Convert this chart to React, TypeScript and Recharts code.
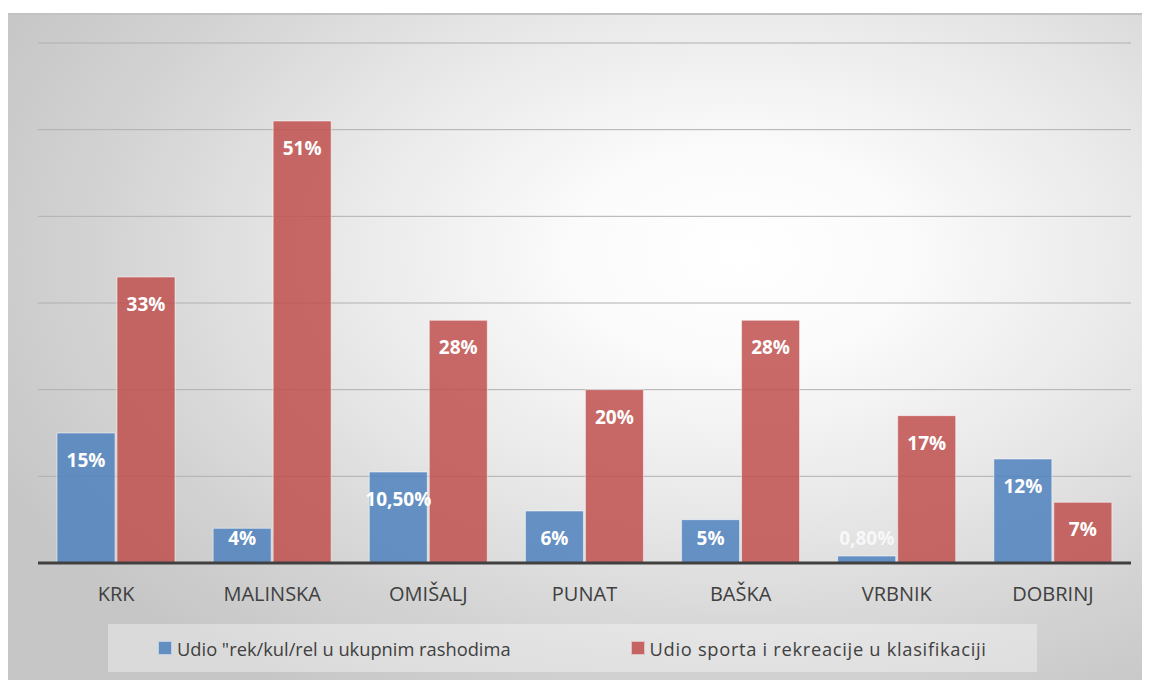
import { BarChart, Bar, XAxis, YAxis, CartesianGrid, Legend, LabelList } from "recharts";

const TOWNS = ["KRK", "MALINSKA", "OMIŠALJ", "PUNAT", "BAŠKA", "VRBNIK", "DOBRINJ"];
const SHARE_TOTAL = [15, 4, 10.5, 6, 5, 0.8, 12];
const SHARE_CLASS = [33, 51, 28, 20, 28, 17, 7];
const Y_TICKS = [0, 10, 20, 30, 40, 50, 60];

const SERIES = [
  { key: "total", name: 'Udio "rek/kul/rel u ukupnim rashodima', color: "#4f81bd" },
  { key: "klas", name: "Udio sporta i rekreacije u klasifikaciji", color: "#c0504d" },
];

const data = TOWNS.map((town, i) => ({
  town,
  total: SHARE_TOTAL[i],
  klas: SHARE_CLASS[i],
}));

const FONT = '"Open Sans", sans-serif';

const fmt = (v: number) =>
  Number.isInteger(v) ? `${v}%` : `${v.toFixed(2).replace(".", ",")}%`;

// inside end label, pushed up / outside when the bar is too short (like Excel)
function BarLabel(props: any) {
  const { x = 0, y = 0, width = 0, height = 0, value } = props;
  const cx = x + width / 2;
  const small = height < 20;
  const ty = small ? y - 11 : Math.min(y + 34, y + height - 18);
  return (
    <text
      x={cx}
      y={ty}
      textAnchor="middle"
      fill="#ffffff"
      fillOpacity={small ? 0.75 : 1}
      fontFamily={FONT}
      fontWeight={700}
      fontSize={19}
    >
      {fmt(Number(value))}
    </text>
  );
}

function LegendBox() {
  return (
    <div
      style={{
        height: 48,
        boxSizing: "border-box",
        paddingLeft: 50,
        background: "rgba(255,255,255,0.35)",
        display: "flex",
        alignItems: "center",
        gap: 120,
        fontFamily: FONT,
        fontSize: 18.3,
        color: "#404040",
      }}
    >
      {SERIES.map((s, i) => (
        <div key={s.key} style={{ display: "flex", alignItems: "center" }}>
          <span
            style={{
              display: "inline-block",
              width: 12,
              height: 12,
              marginRight: 5,
              background: s.color,
              opacity: 0.85,
              border: "1px solid rgba(255,255,255,0.6)",
            }}
          />
          <span style={{ letterSpacing: i === 1 ? 0.7 : 0 }}>{s.name}</span>
        </div>
      ))}
    </div>
  );
}

export default function App() {
  return (
    <div
      style={{
        marginTop: 5,
        width: 1142,
        height: 665,
        borderTop: "2px solid #c2c2c2",
        background:
          "radial-gradient(ellipse 72% 78% at 64% 36%, #ffffff 0%, #fbfbfb 20%, #e8e8e8 50%, #d3d3d3 78%, #c6c6c6 100%)",
      }}
    >
      <BarChart
        width={1142}
        height={665}
        data={data}
        margin={{ top: 28, right: 19, left: 30, bottom: 8 }}
        barSize={58}
        barGap={2}
      >
        <CartesianGrid vertical={false} stroke="#b0b0b0" />
        <XAxis
          dataKey="town"
          height={61}
          tickLine={false}
          axisLine={{ stroke: "#404040", strokeWidth: 3 }}
          tickMargin={18}
          tick={{ fill: "#404040", fontSize: 20, fontFamily: FONT }}
        />
        <YAxis hide domain={[0, 60]} ticks={Y_TICKS} />
        <Legend
          verticalAlign="bottom"
          height={48}
          wrapperStyle={{ left: 100, width: 929, bottom: 8 }}
          content={<LegendBox />}
        />
        {SERIES.map((s) => (
          <Bar
            key={s.key}
            dataKey={s.key}
            name={s.name}
            fill={s.color}
            fillOpacity={0.85}
            stroke="#ffffff"
            strokeOpacity={0.5}
            isAnimationActive={false}
          >
            <LabelList dataKey={s.key} content={<BarLabel />} />
          </Bar>
        ))}
      </BarChart>
    </div>
  );
}
